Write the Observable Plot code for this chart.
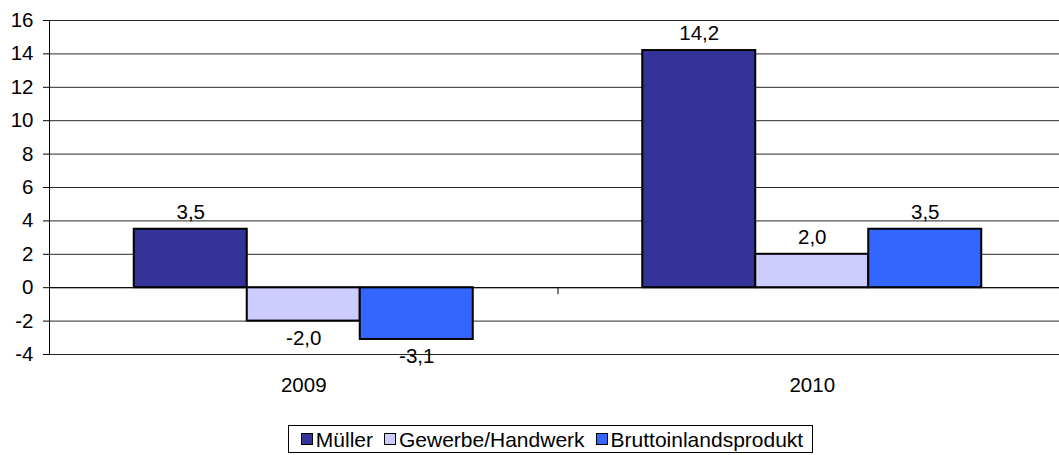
<!DOCTYPE html>
<html><head><meta charset="utf-8">
<script src="https://cdn.jsdelivr.net/npm/d3@7"></script>
<script src="https://cdn.jsdelivr.net/npm/@observablehq/plot@0.6"></script>
<style>
body{margin:0;background:#fff;font-family:"Liberation Sans",Arial,sans-serif;}
#chart svg{display:block;}
.legend-wrap{width:1059px;padding-left:42px;box-sizing:border-box;text-align:center;margin-top:15px;line-height:1;}
.legend{display:inline-flex;align-items:center;border:1px solid #000;height:28px;box-sizing:border-box;padding:0 9px 0 12px;font-size:21px;color:#000;}
.item{display:flex;align-items:center;margin-right:11px}
.item:last-child{margin-right:0}
.sw{width:10px;height:10px;border:1.5px solid #000;margin-right:3px;flex:none}
</style></head><body>
<div id="chart"></div>
<script>
const years = ["2009", "2010"];
const series = ["Müller", "Gewerbe/Handwerk", "Bruttoinlandsprodukt"];
const mueller = [3.5, 14.2];
const gewerbe = [-2.0, 2.0];
const bip = [-3.1, 3.5];
const colors = ["#333399", "#CCCCFF", "#3366FF"];
const yTicks = [-4, -2, 0, 2, 4, 6, 8, 10, 12, 14, 16];

const valuesBySeries = [mueller, gewerbe, bip];
const barW = 2 / 9;
const rows = [];
years.forEach((yr, i) => {
  series.forEach((s, j) => {
    const x1 = i + 1 / 6 + j * barW;
    rows.push({year: yr, series: s, value: valuesBySeries[j][i], x1, x2: x1 + barW});
  });
});
const fmt = v => v.toFixed(1).replace(".", ",");
const catCenters = years.map((y, i) => i + 0.5);
const catBounds = years.map((y, i) => i).filter(i => i > 0);
const FS = 20.5;

const plot = Plot.plot({
  width: 1059, height: 410,
  marginLeft: 49, marginRight: 0, marginTop: 20, marginBottom: 56,
  style: {fontFamily: "'Liberation Sans', Arial, sans-serif", fontSize: FS + "px", color: "#000", background: "#fff", overflow: "visible"},
  x: {domain: [0, years.length], range: [49, 1066]},
  y: {domain: [-4, 16]},
  color: {domain: series, range: colors},
  marks: [
    Plot.ruleY(yTicks, {stroke: "#000", strokeWidth: 1, strokeOpacity: 0.85}),
    Plot.rect(rows, {x1: "x1", x2: "x2", y1: 0, y2: "value", fill: "series", stroke: "#000", strokeWidth: 2}),
    Plot.ruleY([0], {stroke: "#000"}),
    Plot.ruleX(catBounds, {y1: 0, y2: 0, insetBottom: -7, stroke: "#000"}),
    Plot.ruleX([0], {stroke: "#000"}),
    Plot.text(rows.filter(d => d.value >= 0), {x: d => (d.x1 + d.x2) / 2, y: "value", text: d => fmt(d.value), dy: -17, lineAnchor: "middle", fill: "#000", fontSize: FS}),
    Plot.text(rows.filter(d => d.value < 0), {x: d => (d.x1 + d.x2) / 2, y: "value", text: d => fmt(d.value), dy: 17, lineAnchor: "middle", fill: "#000", fontSize: FS}),
    Plot.axisY({ticks: yTicks, tickSize: 6, tickPadding: 10, tickFormat: d => String(d), label: null, fontSize: FS}),
    Plot.axisX({ticks: catCenters, tickFormat: d => years[Math.floor(d)], tickSize: 0, tickPadding: 23, label: null, fontSize: FS})
  ]
});
document.getElementById("chart").appendChild(plot);

const wrap = document.createElement("div");
wrap.className = "legend-wrap";
const leg = document.createElement("div");
leg.className = "legend";
series.forEach((s, j) => {
  const it = document.createElement("div");
  it.className = "item";
  const sw = document.createElement("span");
  sw.className = "sw";
  sw.style.background = colors[j];
  const tx = document.createElement("span");
  tx.textContent = s;
  it.appendChild(sw); it.appendChild(tx);
  leg.appendChild(it);
});
wrap.appendChild(leg);
document.body.appendChild(wrap);
</script>
</body></html>
